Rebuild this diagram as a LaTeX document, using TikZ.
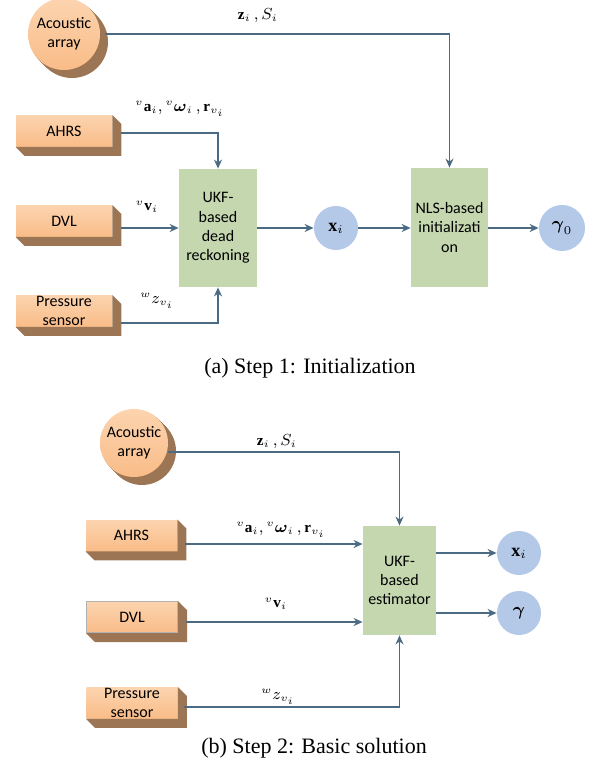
\documentclass[tikz,border=0pt]{standalone}
\usepackage{fontspec}
\setmainfont{Liberation Serif}
\newfontfamily\boxfont{Carlito}
\usepackage{amsmath}
\usetikzlibrary{arrows.meta,calc,backgrounds}

\definecolor{sensfill}{HTML}{F9BC88}
\definecolor{senstop}{HTML}{FCD4AF}
\definecolor{sensside}{HTML}{9C7654}
\definecolor{procfill}{HTML}{C5D7AF}
\definecolor{outfill}{HTML}{B4C8E8}
\definecolor{wire}{HTML}{4B6A84}

% боковая грань датчика
\newcommand{\sensorside}[1]{%
  \fill[sensside] (#1.north east) -- ++(4.5pt,-4.5pt) -- ($(#1.south east)+(4.5pt,-4.5pt)$)
    -- ($(#1.south west)+(4.5pt,-4.5pt)$) -- (#1.south west) -- (#1.south east) -- cycle;}

\tikzset{
  sensor/.style={rectangle, top color=senstop, bottom color=sensfill, minimum width=48pt,
    minimum height=15.5pt, inner xsep=1pt, inner ysep=0.4pt, align=center,
    font=\boxfont\fontsize{8}{9.6}\selectfont},
  source/.style={circle, top color=senstop, bottom color=sensfill, inner sep=0pt, align=center,
    font=\boxfont\fontsize{8}{9.6}\selectfont},
  proc/.style={rectangle, fill=procfill, inner xsep=1pt, align=center,
    font=\boxfont\fontsize{8}{9.6}\selectfont},
  state/.style={circle, fill=outfill, minimum size=22pt, inner sep=0pt, font=\fontsize{9}{10}\selectfont},
  lbl/.style={font=\fontsize{7.6}{9}\selectfont, inner sep=0pt},
  caption/.style={font=\fontsize{11}{13}\selectfont, inner sep=0pt},
  flow/.style={draw=wire, line width=0.7pt, -{Stealth[length=4.5pt,width=4pt]}}
}

\begin{document}
\begin{tikzpicture}[x=0.5pt,y=-0.5pt]
  \useasboundingbox (0,0) rectangle (592,769);
  %шаг 1
  \node[source, minimum size=36pt] (acA) at (64,34) {Acoustic\\array};
  \node[sensor] (ahrsA) at (64,131) {AHRS};
  \node[sensor] (dvlA) at (64,221) {DVL};
  \node[sensor] (presA) at (64,311) {Pressure\\sensor};
  \node[proc, minimum width=39pt, minimum height=59pt] (ukfA) at (218,228) {UKF-\\based\\dead\\reckoning};
  \node[state] (xiA) at (336,228) {$\mathbf{x}_i$};
  \node[proc, minimum width=38.5pt, minimum height=59.5pt] (nlsA) at (449.5,227.5) {NLS-based\\initializati\\on};
  \node[state, minimum size=23pt] (g0A) at (562,228) {$\boldsymbol{\gamma}_0$};
  \begin{scope}[on background layer]
    \foreach \k in {0.5,1,...,4} {
      \fill[sensside] ($(acA)+(\k pt,-\k pt)$) circle[radius=18pt];
    }
  \end{scope}
  \sensorside{ahrsA}
  \sensorside{dvlA}
  \sensorside{presA}
  %связи
  \coordinate (acAout) at ($(acA.east)+(2.5pt,0)$);
  \coordinate (ahrsAout) at ($(ahrsA.east)+(4.5pt,-1pt)$);
  \coordinate (dvlAout) at ($(dvlA.east |- ukfA.west)+(4.5pt,0)$);
  \coordinate (presAout) at ($(presA.east)+(4.5pt,-6pt)$);
  \draw[flow] (acAout) -| (nlsA.north);
  \draw[flow] (ahrsAout) -| (ukfA.north);
  \draw[flow] (dvlAout) -- (ukfA.west);
  \draw[flow] (presAout) -| (ukfA.south);
  \draw[flow] (ukfA.east) -- (xiA.west);
  \draw[flow] (xiA.east) -- (nlsA.west |- xiA);
  \draw[flow] (nlsA.east |- g0A) -- (g0A.west);
  \node[lbl] (lzA) at (258,16) {$\mathbf{z}_i\,, S_i$};
  \node[lbl] (laA) at (180,109) {${}^{v}\mathbf{a}_i, {}^{v}\boldsymbol{\omega}_i\,, \mathbf{r}_{v_i}$};
  \node[lbl] (lvA) at (147,207) {${}^{v}\mathbf{v}_i$};
  \node[lbl] (lwA) at (157,301) {${}^{w}z_{v_i}$};
  \node[caption] (capA) at (310,368) {(a) Step 1: Initialization};

  %шаг 2
  \node[source, minimum size=34pt] (acB) at (134,443) {Acoustic\\array};
  \node[sensor, minimum width=45.5pt] (ahrsB) at (131.5,535.5) {AHRS};
  \node[sensor, minimum width=45.5pt, draw=gray!60, line width=0.5pt] (dvlB) at (132,617) {DVL};
  \node[sensor, minimum width=45.5pt] (presB) at (132,703) {Pressure\\sensor};
  \node[proc, minimum width=36.5pt, minimum height=54.5pt] (ukfB) at (399.5,580.5) {UKF-\\based\\estimator};
  \node[state] (xiB) at (519,553) {$\mathbf{x}_i$};
  \node[state] (gB) at (519,613) {$\boldsymbol{\gamma}$};
  \begin{scope}[on background layer]
    \foreach \k in {0.5,1,...,4} {
      \fill[sensside] ($(acB)+(\k pt,-\k pt)$) circle[radius=17pt];
    }
  \end{scope}
  \sensorside{ahrsB}
  \sensorside{dvlB}
  \sensorside{presB}
  %связи
  \coordinate (acBout) at ($(acB.east)+(0,-4.5pt)$);
  \coordinate (ahrsBout) at ($(ahrsB.east)+(4pt,-4.25pt)$);
  \coordinate (dvlBout) at ($(dvlB.east)+(4pt,-2.5pt)$);
  \coordinate (presBout) at ($(presB.east)+(3pt,-2pt)$);
  \draw[flow] (acBout) -| (ukfB.north);
  \draw[flow] (ahrsBout) -- (ahrsBout -| ukfB.west);
  \draw[flow] (dvlBout) -- (dvlBout -| ukfB.west);
  \draw[flow] (presBout) -| (ukfB.south);
  \draw[flow] (ukfB.east |- xiB) -- (xiB.west);
  \draw[flow] (ukfB.east |- gB) -- (gB.west);
  \node[lbl] (lzB) at (277,442) {$\mathbf{z}_i\,, S_i$};
  \node[lbl] (laB) at (281,530) {${}^{v}\mathbf{a}_i, {}^{v}\boldsymbol{\omega}_i\,, \mathbf{r}_{v_i}$};
  \node[lbl] (lvB) at (276,604) {${}^{v}\mathbf{v}_i$};
  \node[lbl] (lwB) at (278,697) {${}^{w}z_{v_i}$};
  \node[caption] (capB) at (314,748) {(b) Step 2: Basic solution};
\end{tikzpicture}
\end{document}
